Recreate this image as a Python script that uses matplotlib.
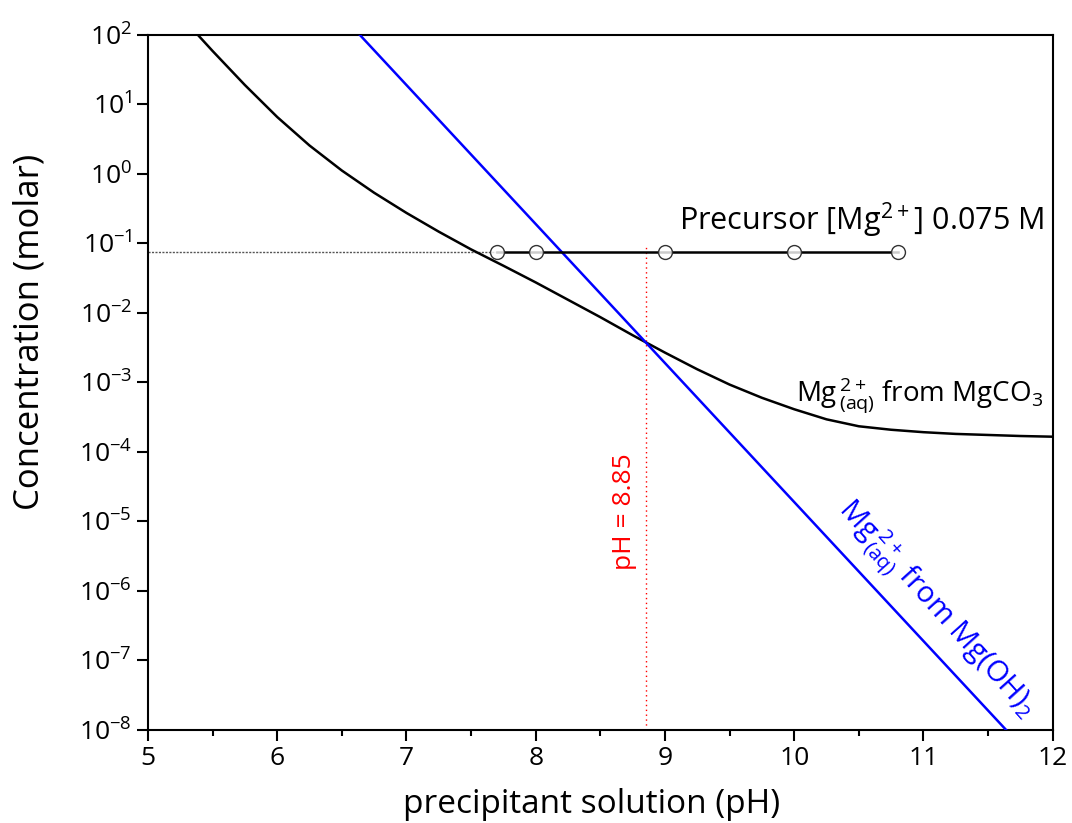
import numpy as np
import matplotlib
matplotlib.use("Agg")
import matplotlib.pyplot as plt

plt.rcParams["font.family"] = ["Open Sans", "DejaVu Sans"]
plt.rcParams["mathtext.default"] = "regular"

# Mg2+ из MgCO3 (pH, log10 концентрации)
ph_co3 = [5.377, 5.5, 5.75, 6.0, 6.25, 6.5, 6.75, 7.0, 7.25, 7.5, 7.75, 8.0,
          8.25, 8.5, 8.75, 9.0, 9.25, 9.5, 9.75, 10.0, 10.25, 10.5, 10.75,
          11.0, 11.25, 11.5, 11.75, 12.0]
log_co3 = [2.02, 1.77, 1.28, 0.82, 0.41, 0.05, -0.27, -0.56, -0.83, -1.085,
           -1.32, -1.56, -1.81, -2.06, -2.32, -2.57, -2.81, -3.03, -3.22, -3.385,
           -3.53, -3.63, -3.68, -3.715, -3.74, -3.755, -3.77, -3.78]

# Mg2+ из Mg(OH)2 - прямая в логарифмическом масштабе
ph_oh = [6.64, 11.64]
conc_oh = [1e2, 1e-8]

# исходный раствор прекурсора
precursor_ph = [7.7, 8.0, 9.0, 10.0, 10.8]
precursor_conc = 0.075
ph_cross = 8.85

xticks = [5, 6, 7, 8, 9, 10, 11, 12]
yticks = [1e-8, 1e-7, 1e-6, 1e-5, 1e-4, 1e-3, 1e-2, 1e-1, 1e0, 1e1, 1e2]
ytick_labels = [r"$10^{-8}$", r"$10^{-7}$", r"$10^{-6}$", r"$10^{-5}$", r"$10^{-4}$",
                r"$10^{-3}$", r"$10^{-2}$", r"$10^{-1}$", r"$10^{0}$", r"$10^{1}$", r"$10^{2}$"]

fig = plt.figure(figsize=(10.72, 8.23), dpi=100)
ax = fig.add_axes([0.138, 0.113, 0.844, 0.8445])

ax.plot(ph_co3, 10 ** np.array(log_co3), color="black", lw=1.8, zorder=3)
ax.plot(ph_oh, conc_oh, color="#0000ff", lw=1.8, zorder=3)

# пунктир до первой точки и вертикаль pH = 8.85
ax.plot([5, precursor_ph[0]], [precursor_conc] * 2, color="#555555", lw=1.0,
        ls=(0, (1.5, 1)), zorder=2)
ax.plot([ph_cross, ph_cross], [1e-8, 0.09], color="red", lw=1.0,
        ls=(0, (1, 2.5)), zorder=2)
ax.plot(precursor_ph, [precursor_conc] * len(precursor_ph), color="black", lw=1.8,
        marker="o", ms=10, mfc=(1, 1, 1, 0.8), mec="#333333", mew=1.0, zorder=4)

ax.set_yscale("log")
ax.set_xlim(5, 12)
ax.set_ylim(1e-8, 1e2)
ax.set_xticks(xticks)
ax.set_xticks(np.arange(5.5, 12, 1.0), minor=True)
ax.set_yticks(yticks)
ax.set_yticklabels(ytick_labels)
ax.yaxis.set_minor_locator(matplotlib.ticker.NullLocator())
ax.tick_params(which="major", direction="out", length=8, width=1.5, labelsize=19)
ax.tick_params(which="minor", direction="out", length=4.5, width=1.5)
for s in ax.spines.values():
    s.set_linewidth(1.5)

ax.set_xlabel("precipitant solution (pH)", fontsize=24)
ax.set_ylabel("Concentration (molar)", fontsize=25)
ax.xaxis.set_label_coords(0.49, -0.083)
ax.yaxis.set_label_coords(-0.112, 0.573)

ax.text(11.93, 0.156, r"Precursor [Mg$^{2+}$] 0.075 M", fontsize=22,
        ha="right", va="baseline")
ax.text(11.93, 5.3e-4, r"Mg$^{\,2+}_{\,(aq)}$ from MgCO$_3$", fontsize=20,
        ha="right", va="baseline")
ax.text(11.09, 5.4e-7, r"Mg$^{\,2+}_{\,(aq)}$ from Mg(OH)$_2$", fontsize=21,
        color="#0000ff", ha="center", va="center", rotation=-48,
        rotation_mode="anchor")
ax.text(8.69, 1.38e-5, "pH = 8.85", fontsize=19, color="red", rotation=90,
        ha="center", va="center")

fig.savefig("out.png", dpi=100)
